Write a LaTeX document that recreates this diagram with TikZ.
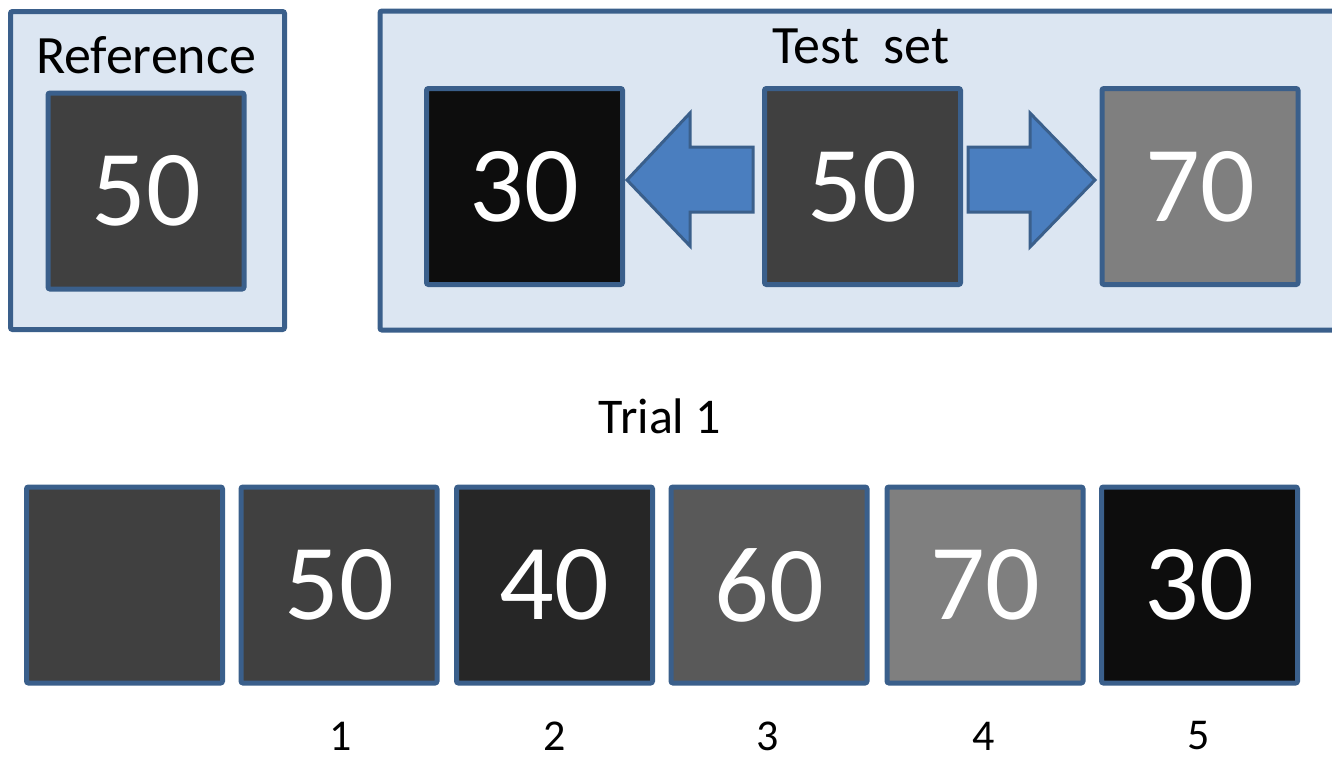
\documentclass[tikz,border=0pt]{standalone}
\usepackage{fontspec}
\setmainfont{Carlito}
\definecolor{edge}{HTML}{3A5F8B}
\definecolor{panelfill}{HTML}{DCE6F2}
\definecolor{arrowfill}{HTML}{4A7EBF}
\definecolor{g30}{HTML}{0D0D0D}
\definecolor{g40}{HTML}{262626}
\definecolor{g50}{HTML}{404040}
\definecolor{g60}{HTML}{595959}
\definecolor{g70}{HTML}{7F7F7F}
\tikzset{
  panel/.style={draw=edge, line width=2.5pt, fill=panelfill, rounded corners=1pt},
  patch/.style={draw=edge, line width=2.5pt, rounded corners=1pt, inner sep=0pt,
    minimum width=98pt, minimum height=98pt, text=white,
    font=\fontsize{54}{60}\selectfont},
  bigarrow/.style={draw=edge, line width=1.5pt, fill=arrowfill, line join=miter},
  caption/.style={inner sep=0pt, text=black},
}
\begin{document}
\begin{tikzpicture}[x=0.5pt, y=-0.5pt]
\useasboundingbox (0,0) rectangle (1332,757);
\clip (0,0) rectangle (1332,757);

% reference panel
\node[panel, inner sep=0pt, minimum width=137pt, minimum height=159pt] (refpanel) at (147.5,170.5) {};
\node[caption, font=\fontsize{27}{32}\selectfont] (reftitle) at (146,55) {Reference};
\node[patch, fill=g50] (ref50) at (146,191) {50};

% test set panel (runs past the right edge)
\draw[panel] (380,11) rectangle (1350,330);
\node[caption, font=\fontsize{27}{32}\selectfont] (testtitle) at (861,46) {Test\ \ set};
\node[patch, fill=g30] (t30) at (524.5,186.5) {30};
\node[patch, fill=g50] (t50) at (862.5,186.5) {50};
\node[patch, fill=g70] (t70) at (1200,186.5) {70};

% block arrows from the middle patch outwards
\draw[bigarrow] (627,180) -- (690,113) -- (690,147) -- (753,147) -- (753,212) -- (690,212) -- (690,246) -- cycle;
\draw[bigarrow] (1095,180) -- (1030,113) -- (1030,147) -- (968,147) -- (968,212) -- (1030,212) -- (1030,247) -- cycle;

% trial sequence
\node[caption, font=\fontsize{25}{30}\selectfont] (trial) at (660,416) {Trial 1};
\node[patch, fill=g50] (s0) at (124.5,585) {};
\node[patch, fill=g50] (s1) at (339,585) {50};
\node[patch, fill=g40] (s2) at (554.5,585) {40};
\node[patch, fill=g60] (s3) at (769,585) {60};
\node[patch, fill=g70] (s4) at (985,585) {70};
\node[patch, fill=g30] (s5) at (1199.5,585) {30};

\foreach \i/\x in {1/341,2/555,3/768,4/984,5/1199}
  \node[caption, font=\fontsize{22}{26}\selectfont] (lab\i) at (\x,736) {\i};
\end{tikzpicture}
\end{document}
